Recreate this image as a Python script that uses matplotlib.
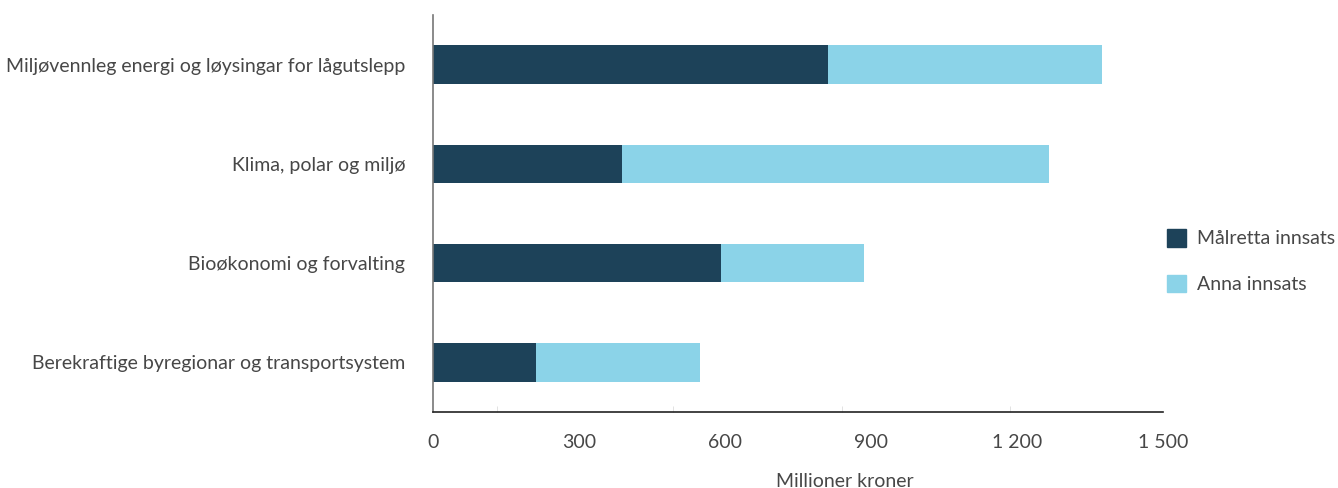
import matplotlib.pyplot as plt
from matplotlib.patches import Patch
from matplotlib.ticker import FixedLocator, FuncFormatter

# Data.
categories = ['Miljøvennleg energi og løysingar for lågutslepp',
              'Klima, polar og miljø',
              'Bioøkonomi og forvalting',
              'Berekraftige byregionar og transportsystem']
malretta = [812, 388, 592, 212]
anna = [563, 878, 294, 337]
xticks = [0, 300, 600, 900, 1200, 1500]

dark = '#1d4259'
light = '#8bd3e8'
text_col = '#474747'

plt.rcParams['font.family'] = ['Lato', 'DejaVu Sans']

fig = plt.figure(figsize=(13.38, 4.88), dpi=100)
ax = fig.add_axes([0.3236, 0.156, 0.5456, 0.813])

ypos = list(range(len(categories)))
ax.barh(ypos, malretta, height=0.39, color=dark, label='Målretta innsats')
ax.barh(ypos, anna, left=malretta, height=0.39, color=light, label='Anna innsats')

ax.set_ylim(3.5, -0.5)
ax.set_xlim(0, 1500)
ax.set_yticks(ypos)
ax.set_yticklabels(categories, fontsize=14.0, color=text_col)
ax.set_xticks(xticks)
ax.xaxis.set_major_formatter(FuncFormatter(lambda v, p: f'{int(v):,}'.replace(',', ' ')))
ax.xaxis.set_minor_locator(FixedLocator([131, 493, 841, 1186]))
ax.tick_params(axis='x', which='major', length=0, pad=16, labelsize=14.0, labelcolor=text_col)
ax.tick_params(axis='x', which='minor', length=4, direction='in', color='#dddddd')
ax.tick_params(axis='y', length=0, pad=20)

for s in ['top', 'right']:
    ax.spines[s].set_visible(False)
ax.spines['left'].set_color('#777777')
ax.spines['left'].set_linewidth(1.2)
ax.spines['bottom'].set_color('#222222')
ax.spines['bottom'].set_linewidth(1.2)

ax.set_xlabel('Millioner kroner', fontsize=14.0, color=text_col)
ax.xaxis.set_label_coords(0.564, -0.155)

handles = [Patch(color=dark, label='Målretta innsats'), Patch(color=light, label='Anna innsats')]
fig.legend(handles=handles, loc='center left', bbox_to_anchor=(0.859, 0.465), frameon=False,
           fontsize=14.0, labelcolor=text_col, handlelength=1.0, handleheight=1.0,
           labelspacing=1.4, handletextpad=0.55)

fig.savefig('out.png', dpi=100)
